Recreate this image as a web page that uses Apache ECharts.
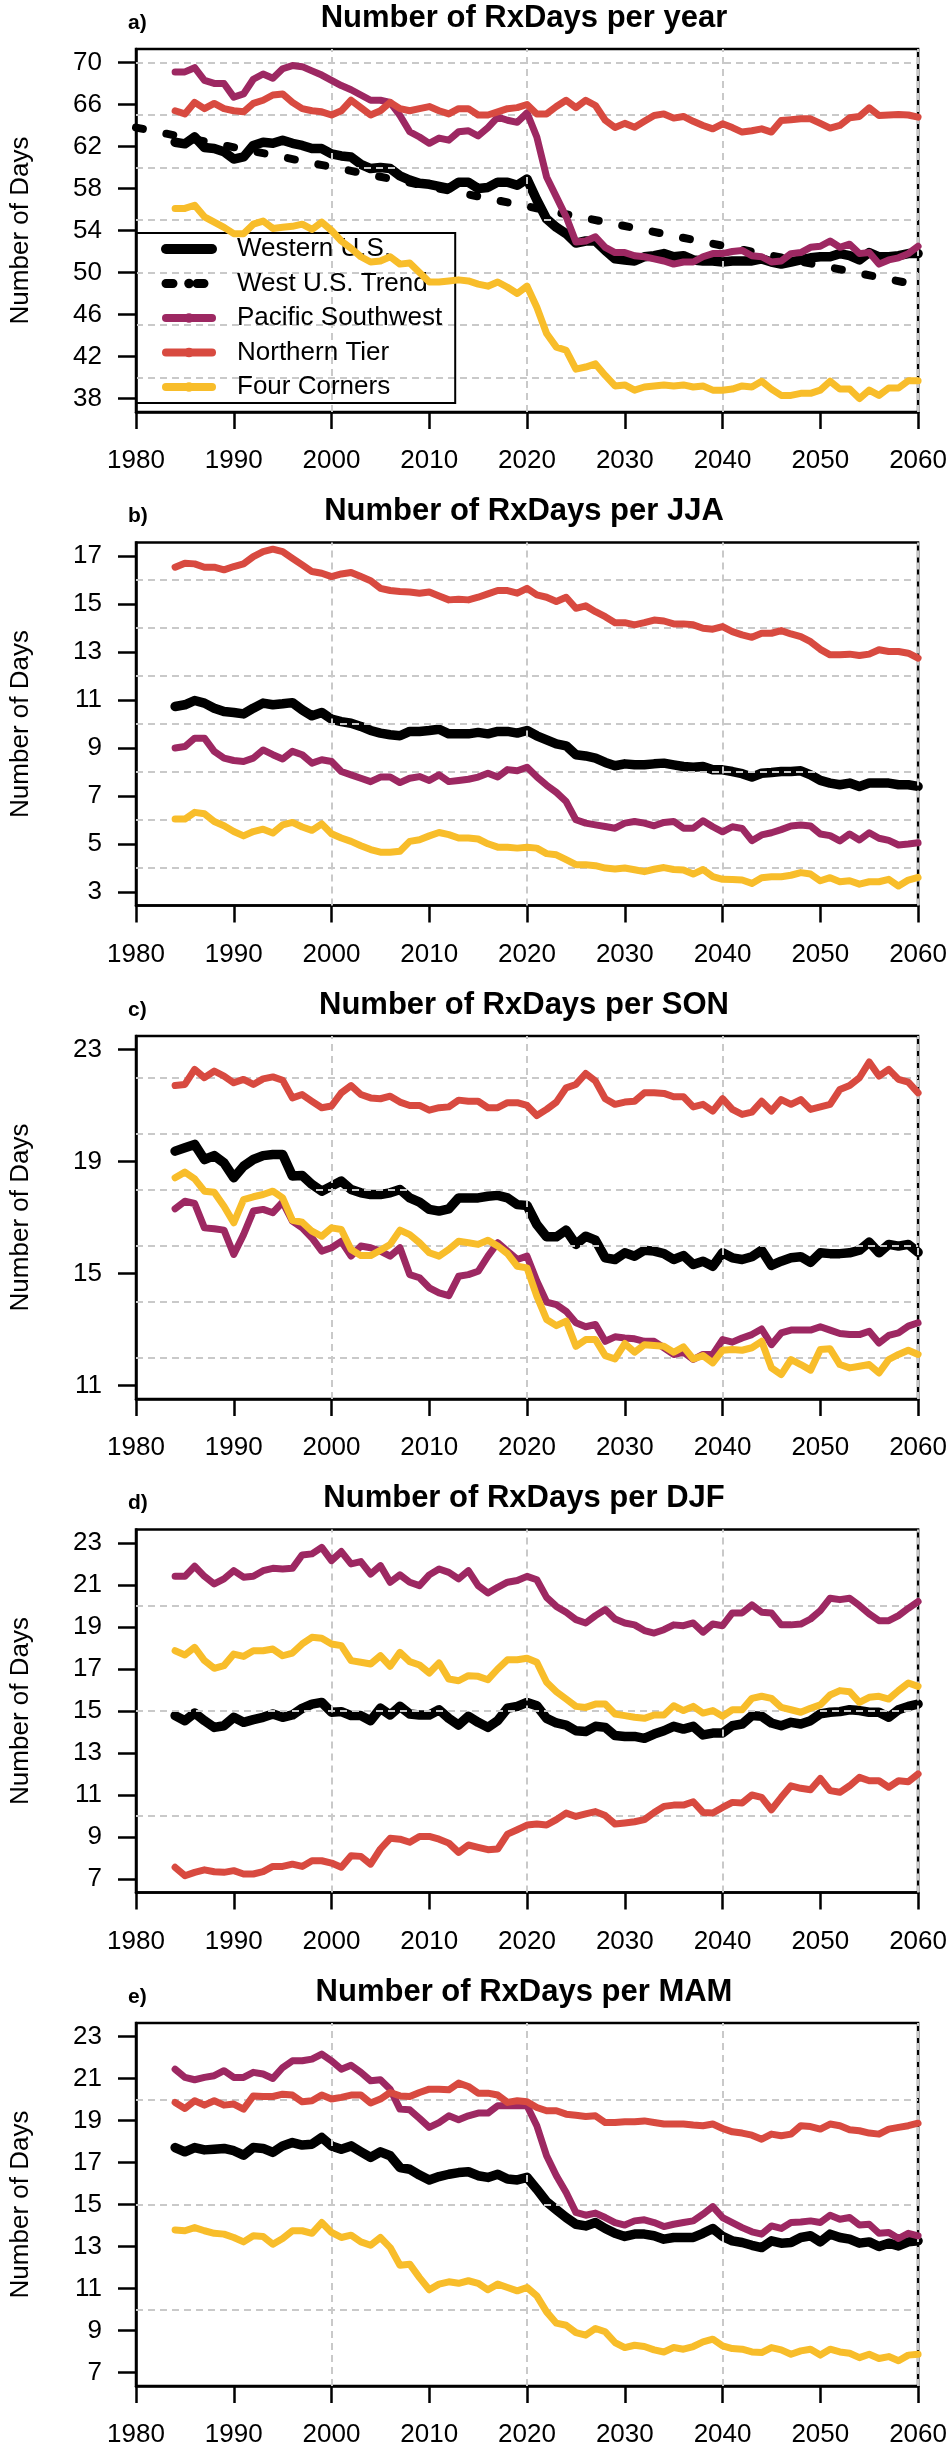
<!DOCTYPE html>
<html>
<head>
<meta charset="utf-8">
<script src="https://cdn.jsdelivr.net/npm/echarts@6/dist/echarts.min.js"></script>
<style>
html,body{margin:0;padding:0;background:#fff;}
#chart{width:950px;height:2455px;}
</style>
</head>
<body>
<div id="chart"></div>
<script>
// ---------------- DATA ----------------
const years = [1984,1985,1986,1987,1988,1989,1990,1991,1992,1993,
  1994,1995,1996,1997,1998,1999,2000,2001,2002,2003,
  2004,2005,2006,2007,2008,2009,2010,2011,2012,2013,
  2014,2015,2016,2017,2018,2019,2020,2021,2022,2023,
  2024,2025,2026,2027,2028,2029,2030,2031,2032,2033,
  2034,2035,2036,2037,2038,2039,2040,2041,2042,2043,
  2044,2045,2046,2047,2048,2049,2050,2051,2052,2053,
  2054,2055,2056,2057,2058,2059,2060];

const seriesNames = ['Western U.S.','West U.S. Trend','Pacific Southwest','Northern Tier','Four Corners'];
const xTicks = [1980,1990,2000,2010,2020,2030,2040,2050,2060];
const xGridLines = [2000,2020,2040,2060];

// a) per year
const yearWest = [62.4,62.25,62.9,61.9,61.8,61.5,60.8,61.0,62.1,62.4,
  62.3,62.6,62.3,62.1,61.8,61.8,61.3,61.1,61.0,60.3,
  59.9,60.0,59.9,59.2,58.8,58.5,58.4,58.2,58.0,58.6,
  58.6,58.0,58.1,58.6,58.6,58.3,58.9,56.9,55.1,54.3,
  53.7,52.8,53.0,53.0,52.1,51.3,51.2,51.1,51.5,51.6,
  51.8,51.5,51.6,51.2,51.1,51.1,51.0,51.1,51.1,51.1,
  51.3,51.0,50.8,51.0,51.2,51.4,51.5,51.5,51.8,51.6,
  51.2,51.9,51.5,51.5,51.6,51.8,51.8];
const yearTrendYears = [1980,2060];
const yearTrend = [63.8,48.8];
const yearPacific = [69.1,69.1,69.5,68.3,68.0,68.0,66.7,67.0,68.4,68.9,
  68.5,69.4,69.7,69.6,69.2,68.8,68.3,67.8,67.4,66.9,
  66.4,66.4,66.2,64.95,63.4,62.9,62.3,62.8,62.6,63.4,
  63.5,63.0,63.8,64.8,64.5,64.3,65.2,62.9,59.1,57.2,
  55.3,52.9,53.0,53.4,52.4,51.9,51.9,51.6,51.5,51.3,
  51.1,50.8,51.0,51.0,51.5,51.8,51.8,52.0,52.1,51.6,
  51.5,51.0,51.1,51.8,51.9,52.4,52.5,53.0,52.4,52.7,
  51.8,51.9,50.8,51.2,51.4,51.8,52.5];
const yearNorthern = [65.4,65.1,66.2,65.6,66.1,65.6,65.4,65.3,66.1,66.4,
  66.9,67.0,66.2,65.6,65.4,65.3,65.0,65.4,66.4,65.7,
  65.0,65.4,66.2,65.6,65.4,65.6,65.8,65.4,65.1,65.6,
  65.6,65.0,65.0,65.3,65.6,65.7,66.0,65.1,65.1,65.8,
  66.4,65.7,66.4,65.9,64.5,63.8,64.2,63.84,64.4,64.95,
  65.1,64.7,64.86,64.4,64.0,63.68,64.16,63.8,63.37,63.5,
  63.68,63.37,64.48,64.55,64.63,64.63,64.2,63.75,64.0,64.73,
  64.86,65.68,64.95,65.0,65.05,65.0,64.79];
const yearFour = [56.1,56.1,56.4,55.3,54.8,54.3,53.7,53.7,54.6,54.9,
  54.2,54.3,54.4,54.6,54.1,54.8,54.0,53.0,52.3,51.5,
  51.0,51.1,51.5,50.8,50.9,50.0,49.1,49.1,49.2,49.3,
  49.2,48.9,48.7,49.1,48.6,48.0,48.7,46.7,44.2,42.9,
  42.6,40.8,41.0,41.3,40.2,39.2,39.3,38.8,39.1,39.2,
  39.3,39.2,39.3,39.1,39.2,38.8,38.8,38.9,39.2,39.1,
  39.65,38.9,38.3,38.3,38.5,38.5,38.8,39.65,38.9,38.9,
  38.0,38.8,38.3,39.0,39.0,39.7,39.7];
const yearTicks = [38,42,46,50,54,58,62,66,70];
const yearGridY = [40,45,50,55,60,65,70];

// b) JJA
const jjaWest = [10.73,10.8,10.98,10.87,10.66,10.52,10.48,10.42,10.66,10.87,
  10.8,10.84,10.89,10.59,10.34,10.48,10.2,10.1,10.03,9.9,
  9.73,9.62,9.55,9.51,9.69,9.69,9.73,9.78,9.59,9.59,
  9.59,9.65,9.59,9.69,9.69,9.62,9.73,9.51,9.34,9.17,
  9.09,8.72,8.67,8.58,8.4,8.26,8.34,8.3,8.3,8.34,
  8.37,8.3,8.23,8.2,8.23,8.09,8.09,8.02,7.93,7.79,
  7.95,7.98,8.02,8.02,8.05,7.88,7.65,7.54,7.47,7.54,
  7.4,7.54,7.54,7.54,7.47,7.47,7.4];
const jjaPacific = [9.0,9.06,9.41,9.41,8.86,8.58,8.48,8.44,8.58,8.92,
  8.72,8.54,8.86,8.72,8.37,8.51,8.44,8.02,7.88,7.74,
  7.6,7.79,7.79,7.56,7.74,7.81,7.65,7.88,7.6,7.65,
  7.7,7.79,7.95,7.79,8.1,8.05,8.2,7.8,7.45,7.15,
  6.77,6.01,5.87,5.8,5.73,5.66,5.87,5.94,5.87,5.76,
  5.9,5.94,5.66,5.66,5.97,5.72,5.51,5.72,5.65,5.14,
  5.38,5.47,5.6,5.75,5.79,5.75,5.42,5.35,5.13,5.42,
  5.17,5.47,5.24,5.15,4.96,5.0,5.05];
const jjaNorthern = [16.53,16.7,16.67,16.53,16.53,16.42,16.56,16.67,16.97,17.18,
  17.28,17.18,16.9,16.63,16.35,16.28,16.14,16.25,16.31,16.14,
  15.97,15.65,15.56,15.52,15.5,15.45,15.5,15.33,15.17,15.2,
  15.17,15.28,15.42,15.56,15.56,15.45,15.65,15.38,15.28,15.1,
  15.28,14.82,14.92,14.68,14.47,14.22,14.22,14.13,14.22,14.33,
  14.29,14.17,14.17,14.13,13.99,13.95,14.06,13.85,13.71,13.61,
  13.78,13.78,13.89,13.75,13.64,13.43,13.11,12.88,12.88,12.91,
  12.85,12.91,13.09,13.02,13.02,12.95,12.74];
const jjaFour = [6.04,6.04,6.32,6.26,5.94,5.76,5.52,5.34,5.52,5.62,
  5.46,5.8,5.9,5.71,5.57,5.84,5.43,5.25,5.11,4.93,
  4.77,4.66,4.66,4.7,5.11,5.18,5.34,5.48,5.39,5.25,
  5.25,5.21,5.01,4.87,4.87,4.83,4.87,4.83,4.6,4.55,
  4.35,4.14,4.14,4.1,4.0,3.96,4.0,3.93,3.85,3.95,
  4.02,3.94,3.92,3.75,3.94,3.64,3.53,3.52,3.5,3.36,
  3.6,3.64,3.64,3.7,3.81,3.75,3.47,3.6,3.43,3.47,
  3.33,3.43,3.43,3.53,3.25,3.5,3.61];
const jjaTicks = [3,5,7,9,11,13,15,17];
const jjaGridY = [4,6,8,10,12,14,16];

// c) SON
const sonWest = [19.37,19.49,19.61,19.07,19.21,18.95,18.42,18.83,19.07,19.21,
  19.25,19.25,18.48,18.5,18.18,17.94,18.12,18.3,18.0,17.88,
  17.82,17.82,17.88,18.0,17.7,17.55,17.29,17.23,17.31,17.7,
  17.7,17.7,17.76,17.79,17.7,17.46,17.43,16.75,16.31,16.31,
  16.55,16.04,16.33,16.19,15.56,15.5,15.74,15.62,15.83,15.8,
  15.71,15.5,15.64,15.32,15.44,15.26,15.74,15.56,15.5,15.6,
  15.83,15.29,15.44,15.56,15.6,15.4,15.74,15.71,15.71,15.74,
  15.83,16.12,15.74,16.04,15.98,16.04,15.76];
const sonPacific = [17.31,17.58,17.5,16.63,16.6,16.55,15.68,16.39,17.23,17.29,
  17.17,17.55,16.87,16.63,16.27,15.8,15.92,16.15,15.62,15.98,
  15.92,15.8,15.62,15.92,14.96,14.85,14.49,14.31,14.21,14.9,
  14.96,15.08,15.62,16.1,15.8,15.5,15.62,14.73,13.98,13.89,
  13.65,13.24,13.1,13.18,12.58,12.74,12.7,12.67,12.58,12.58,
  12.35,12.11,12.19,11.93,12.11,12.11,12.64,12.55,12.7,12.82,
  13.02,12.46,12.88,12.98,12.98,12.98,13.1,12.98,12.86,12.82,
  12.82,12.94,12.52,12.79,12.88,13.12,13.24];
const sonNorthern = [21.71,21.75,22.29,21.99,22.23,22.05,21.81,21.93,21.75,21.95,
  22.02,21.9,21.27,21.39,21.15,20.92,20.98,21.45,21.71,21.39,
  21.27,21.24,21.33,21.12,21.0,21.0,20.83,20.92,20.95,21.19,
  21.15,21.15,20.92,20.92,21.1,21.1,21.0,20.64,20.86,21.12,
  21.63,21.75,22.14,21.87,21.24,21.04,21.12,21.15,21.45,21.45,
  21.43,21.31,21.31,20.95,21.04,20.8,21.24,20.86,20.68,20.76,
  21.15,20.8,21.21,21.04,21.21,20.86,20.95,21.04,21.57,21.71,
  21.99,22.55,22.05,22.29,21.93,21.83,21.45];
const sonFour = [18.42,18.62,18.38,17.94,17.9,17.4,16.81,17.64,17.74,17.82,
  17.94,17.7,16.9,16.83,16.51,16.33,16.63,16.57,15.86,15.64,
  15.64,15.83,16.04,16.55,16.39,16.1,15.74,15.62,15.86,16.15,
  16.1,16.04,16.19,15.98,15.71,15.26,15.2,14.19,13.36,13.14,
  13.3,12.4,12.64,12.64,12.07,11.95,12.5,12.19,12.46,12.43,
  12.4,12.19,12.38,11.95,12.07,11.81,12.26,12.29,12.26,12.35,
  12.58,11.63,11.39,11.93,11.75,11.55,12.29,12.31,11.75,11.63,
  11.69,11.75,11.45,11.93,12.11,12.26,12.11];
const sonTicks = [11,15,19,23];
const sonGridY = [12,14,16,18,20,22];

// d) DJF
const djfWest = [14.78,14.54,14.9,14.54,14.22,14.3,14.7,14.46,14.59,14.7,
  14.86,14.7,14.81,15.13,15.33,15.41,14.94,14.97,14.78,14.78,
  14.54,15.13,14.81,15.22,14.86,14.81,14.81,15.06,14.65,14.33,
  14.75,14.46,14.22,14.54,15.13,15.22,15.41,15.25,14.65,14.43,
  14.33,14.06,14.02,14.27,14.22,13.83,13.79,13.79,13.7,13.9,
  14.06,14.27,14.14,14.27,13.86,13.95,13.95,14.3,14.38,14.78,
  14.75,14.43,14.3,14.46,14.38,14.54,14.86,14.94,14.97,15.06,
  15.02,14.94,14.94,14.7,15.06,15.22,15.33];
const djfPacific = [21.41,21.41,21.89,21.41,21.05,21.29,21.68,21.37,21.41,21.68,
  21.79,21.76,21.79,22.43,22.48,22.79,22.16,22.59,22.0,22.11,
  21.52,21.92,21.13,21.48,21.13,20.97,21.48,21.76,21.6,21.29,
  21.68,20.97,20.62,20.89,21.13,21.21,21.41,21.25,20.41,19.98,
  19.7,19.35,19.19,19.54,19.83,19.38,19.19,19.1,18.83,18.71,
  18.87,19.1,19.06,19.19,18.75,19.14,19.06,19.67,19.67,20.05,
  19.7,19.67,19.1,19.1,19.14,19.38,19.78,20.37,20.3,20.37,
  20.02,19.62,19.3,19.3,19.54,19.89,20.21];
const djfNorthern = [7.56,7.16,7.32,7.44,7.35,7.32,7.4,7.24,7.24,7.35,
  7.6,7.6,7.71,7.6,7.87,7.87,7.76,7.56,8.11,8.08,
  7.71,8.43,8.94,8.9,8.75,9.03,9.03,8.9,8.71,8.27,
  8.62,8.51,8.4,8.43,9.14,9.35,9.57,9.62,9.57,9.83,
  10.14,9.98,10.1,10.21,10.02,9.62,9.67,9.73,9.83,10.17,
  10.46,10.52,10.52,10.68,10.17,10.14,10.41,10.65,10.62,11.0,
  10.89,10.3,10.89,11.44,11.32,11.25,11.79,11.21,11.13,11.44,
  11.84,11.68,11.68,11.37,11.68,11.63,12.0];
const djfFour = [17.87,17.67,18.03,17.4,17.03,17.16,17.71,17.6,17.87,17.87,
  17.95,17.63,17.76,18.19,18.51,18.46,18.19,18.11,17.4,17.32,
  17.24,17.63,17.13,17.79,17.35,17.19,16.81,17.29,16.52,16.44,
  16.68,16.65,16.49,17.0,17.44,17.44,17.51,17.32,16.37,15.92,
  15.57,15.22,15.17,15.33,15.33,14.86,14.78,14.7,14.65,14.81,
  14.81,15.25,15.02,15.22,14.9,15.02,14.75,15.06,15.06,15.6,
  15.7,15.6,15.17,15.06,14.94,15.13,15.29,15.76,15.97,15.92,
  15.41,15.65,15.7,15.57,15.97,16.33,16.17];
const djfTicks = [7,9,11,13,15,17,19,21,23];
const djfGridY = [10,15,20];

// e) MAM
const mamWest = [17.71,17.51,17.71,17.6,17.63,17.67,17.56,17.35,17.71,17.67,
  17.48,17.79,17.95,17.83,17.87,18.19,17.79,17.63,17.79,17.51,
  17.24,17.51,17.32,16.76,16.68,16.4,16.17,16.33,16.44,16.52,
  16.56,16.37,16.29,16.44,16.21,16.17,16.29,15.73,15.13,14.75,
  14.38,14.06,13.98,14.14,13.86,13.63,13.48,13.59,13.59,13.51,
  13.35,13.43,13.43,13.43,13.63,13.86,13.48,13.27,13.19,13.06,
  12.95,13.27,13.16,13.19,13.43,13.51,13.22,13.59,13.43,13.35,
  13.16,13.22,13.0,13.16,13.03,13.22,13.27];
const mamPacific = [21.44,21.05,20.94,21.05,21.13,21.37,21.05,21.05,21.29,21.21,
  21.0,21.52,21.84,21.84,21.92,22.16,21.84,21.44,21.63,21.29,
  20.89,20.94,20.49,19.54,19.51,19.1,18.67,18.9,19.22,19.03,
  19.22,19.35,19.35,19.7,19.7,19.7,19.7,18.75,17.32,16.37,
  15.57,14.62,14.49,14.59,14.38,14.14,14.02,14.22,14.27,14.14,
  13.95,14.06,14.14,14.22,14.54,14.9,14.38,14.14,13.9,13.7,
  13.59,13.98,13.86,14.14,14.17,14.22,14.14,14.49,14.3,14.38,
  14.02,14.06,13.63,13.67,13.38,13.63,13.51];
const mamNorthern = [19.86,19.57,19.94,19.73,19.94,19.73,19.78,19.54,20.17,20.14,
  20.14,20.25,20.21,19.89,19.94,20.21,20.02,20.1,20.21,20.21,
  19.83,20.02,20.33,20.17,20.14,20.33,20.49,20.49,20.46,20.78,
  20.62,20.3,20.3,20.21,19.86,19.94,19.89,19.62,19.46,19.46,
  19.3,19.25,19.19,19.22,18.9,18.9,18.94,18.94,18.98,18.9,
  18.83,18.83,18.83,18.78,18.75,18.83,18.62,18.46,18.4,18.3,
  18.11,18.35,18.27,18.35,18.75,18.71,18.59,18.83,18.75,18.56,
  18.51,18.4,18.35,18.59,18.67,18.75,18.87];
const mamFour = [13.79,13.75,13.9,13.75,13.63,13.59,13.43,13.22,13.51,13.48,
  13.11,13.38,13.75,13.75,13.63,14.14,13.67,13.43,13.54,13.22,
  13.06,13.43,12.95,12.11,12.16,11.52,10.94,11.21,11.32,11.25,
  11.37,11.25,10.94,11.21,11.05,10.89,11.05,10.65,9.89,9.35,
  9.25,8.9,8.78,9.1,8.94,8.43,8.19,8.3,8.24,8.08,
  7.98,8.19,8.11,8.24,8.46,8.59,8.27,8.14,8.11,7.98,
  7.95,8.19,8.08,7.87,8.03,8.11,7.83,8.11,7.98,7.92,
  7.71,7.87,7.67,7.76,7.56,7.83,7.87];
const mamTicks = [7,9,11,13,15,17,19,21,23];
const mamGridY = [10,15,20];

// ---------------- LAYOUT / STYLE ----------------
const FONT = "'Liberation Sans', Arial, Helvetica, sans-serif";
const COLORS = {west:'#000000', pacific:'#9d2862', northern:'#d84a40', four:'#f8bd2a'};
const GRID_STYLE = {color:'#c9c9c9', width:2, type:[7,5]};

const panels = [
  {letter:'a)', title:'Number of RxDays per year', ylim:[38,70], ticks:yearTicks, gridY:yearGridY,
   west:yearWest, pacific:yearPacific, northern:yearNorthern, four:yearFour, trend:true},
  {letter:'b)', title:'Number of RxDays per JJA', ylim:[3,17], ticks:jjaTicks, gridY:jjaGridY,
   west:jjaWest, pacific:jjaPacific, northern:jjaNorthern, four:jjaFour},
  {letter:'c)', title:'Number of RxDays per SON', ylim:[11,23], ticks:sonTicks, gridY:sonGridY,
   west:sonWest, pacific:sonPacific, northern:sonNorthern, four:sonFour},
  {letter:'d)', title:'Number of RxDays per DJF', ylim:[7,23], ticks:djfTicks, gridY:djfGridY,
   west:djfWest, pacific:djfPacific, northern:djfNorthern, four:djfFour},
  {letter:'e)', title:'Number of RxDays per MAM', ylim:[7,23], ticks:mamTicks, gridY:mamGridY,
   west:mamWest, pacific:mamPacific, northern:mamNorthern, four:mamFour}
];

const PLOT_LEFT = 128, PLOT_RIGHT = 920, PLOT_TOP0 = 49, PANEL_STEP = 493.5, PLOT_H = 363;
const pts = (vals) => years.map((y, i) => [y, vals[i]]);

const grids = [], xAxes = [], yAxes = [], series = [], graphics = [];
panels.forEach((p, i) => {
  const top = PLOT_TOP0 + PANEL_STEP * i;
  const span = p.ylim[1] - p.ylim[0];
  grids.push({left: PLOT_LEFT, width: PLOT_RIGHT - PLOT_LEFT, top: top, height: PLOT_H,
    show: true, borderColor: '#000', borderWidth: 2.5, backgroundColor: 'transparent'});
  xAxes.push({gridIndex: i, type: 'value', min: 1980, max: 2060, interval: 10,
    axisLine: {show: true, onZero: false, lineStyle: {color: '#000', width: 2.5}},
    axisTick: {show: true, length: 17, customValues: xTicks, lineStyle: {color: '#000', width: 2.5}},
    axisLabel: {customValues: xTicks, formatter: (v) => String(v), fontSize: 26, color: '#000', fontFamily: FONT, margin: 36},
    splitLine: {show: false}});
  yAxes.push({gridIndex: i, type: 'value', min: p.ylim[0] - 0.04 * span, max: p.ylim[1] + 0.04 * span,
    axisLine: {show: true, onZero: false, lineStyle: {color: '#000', width: 2.5}},
    axisTick: {show: true, length: 18, customValues: p.ticks, lineStyle: {color: '#000', width: 2.5}},
    axisLabel: {customValues: p.ticks, formatter: (v) => String(v), fontSize: 26, color: '#000', fontFamily: FONT, margin: 34},
    splitLine: {show: false},
    name: 'Number of Days', nameLocation: 'middle', nameRotate: 90, nameGap: 102,
    nameTextStyle: {fontSize: 26, color: '#000', fontFamily: FONT}});

  const common = {type: 'line', xAxisIndex: i, yAxisIndex: i, symbol: 'none', silent: true,
    animation: false, emphasis: {disabled: true}};
  series.push(Object.assign({}, common, {name: seriesNames[0], data: pts(p.west), z: 2,
    lineStyle: {color: COLORS.west, width: 9.5, cap: 'round', join: 'round'}, itemStyle: {color: COLORS.west},
    markLine: {silent: true, symbol: ['none', 'none'], z: 3, animation: false,
      label: {show: false}, emphasis: {disabled: true}, lineStyle: GRID_STYLE,
      data: p.gridY.map(v => ({yAxis: v})).concat(xGridLines.map(v => ({xAxis: v})))}}));
  if (p.trend) {
    series.push(Object.assign({}, common, {name: seriesNames[1], z: 4,
      data: yearTrendYears.map((y, k) => [y, yearTrend[k]]),
      lineStyle: {color: '#000', width: 8, type: [7, 24], cap: 'round', join: 'round'}, itemStyle: {color: '#000'}}));
  }
  series.push(Object.assign({}, common, {name: seriesNames[2], data: pts(p.pacific), z: 5,
    lineStyle: {color: COLORS.pacific, width: 7, cap: 'round', join: 'round'}, itemStyle: {color: COLORS.pacific}}));
  series.push(Object.assign({}, common, {name: seriesNames[3], data: pts(p.northern), z: 6,
    lineStyle: {color: COLORS.northern, width: 7, cap: 'round', join: 'round'}, itemStyle: {color: COLORS.northern}}));
  series.push(Object.assign({}, common, {name: seriesNames[4], data: pts(p.four), z: 7,
    lineStyle: {color: COLORS.four, width: 7, cap: 'round', join: 'round'}, itemStyle: {color: COLORS.four}}));

  const titleY = 18 + PANEL_STEP * i;
  graphics.push({type: 'text', x: (PLOT_LEFT + PLOT_RIGHT) / 2, y: titleY, silent: true,
    style: {text: p.title, fill: '#000', font: 'bold 31px ' + FONT, align: 'center', verticalAlign: 'middle'}});
  graphics.push({type: 'text', x: PLOT_LEFT, y: titleY + 5, silent: true,
    style: {text: p.letter, fill: '#000', font: 'bold 21px ' + FONT, align: 'left', verticalAlign: 'middle'}});
});

const option = {
  backgroundColor: '#fff',
  animation: false,
  grid: grids,
  xAxis: xAxes,
  yAxis: yAxes,
  series: series,
  graphic: graphics,
  legend: {
    left: 136, top: 233, orient: 'vertical', selectedMode: false,
    borderColor: '#000', borderWidth: 2, borderRadius: 0,
    padding: [3, 13, 3, 25], itemWidth: 46, itemHeight: 12, itemGap: 8.5,
    textStyle: {fontSize: 26, color: '#000', fontFamily: FONT, lineHeight: 26, padding: [0, 0, 0, 20]},
    data: [
      {name: seriesNames[0], lineStyle: {color: COLORS.west, width: 10, cap: 'round', type: 'solid'}},
      {name: seriesNames[1], lineStyle: {color: '#000', width: 9, cap: 'round', type: [7, 24]}},
      {name: seriesNames[2], lineStyle: {color: COLORS.pacific, width: 8, cap: 'round', type: 'solid'}},
      {name: seriesNames[3], lineStyle: {color: COLORS.northern, width: 8, cap: 'round', type: 'solid'}},
      {name: seriesNames[4], lineStyle: {color: COLORS.four, width: 8, cap: 'round', type: 'solid'}}
    ]
  }
};

const chart = echarts.init(document.getElementById('chart'), null, {renderer: 'canvas'});
chart.setOption(option);
</script>
</body>
</html>
